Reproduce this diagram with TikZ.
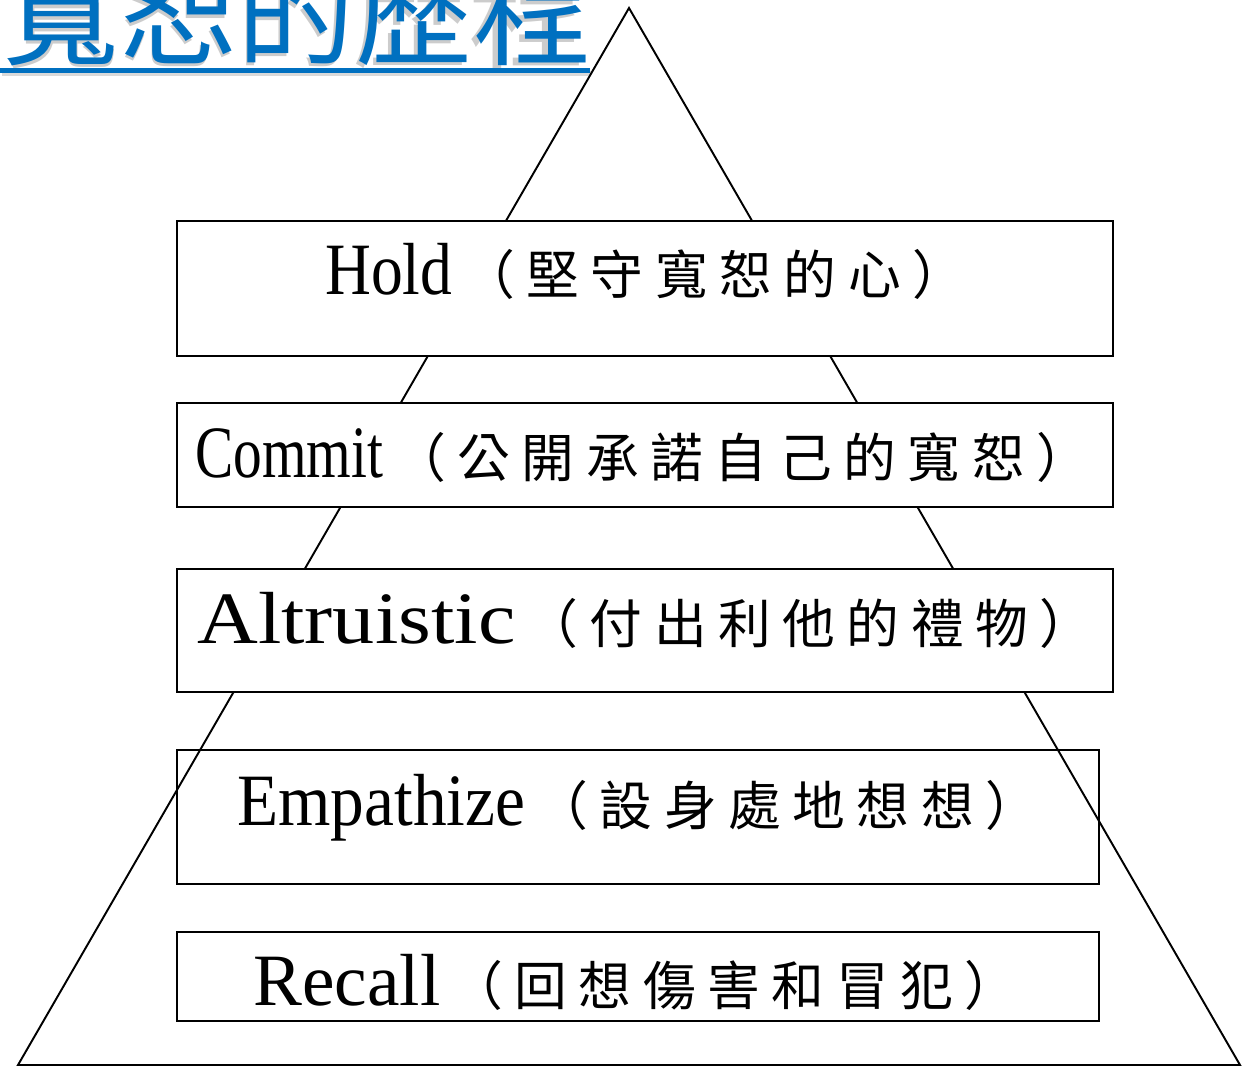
\documentclass[tikz,border=0pt]{standalone}
\usepackage{fontspec}
\usepackage{graphicx}
\setmainfont{Liberation Serif}
\newfontfamily\cjk[LetterSpace=22]{Noto Sans CJK TC}
\newfontfamily\cjktitle{Noto Sans CJK TC}
\usetikzlibrary{positioning}
\definecolor{titleblue}{HTML}{0070C0}
% latin word squeezed to the width it has in the slide
\newcommand\lat[2]{\resizebox{#1}{\height}{#2}}
\newcommand\zh[1]{\hspace{0.2cm}{\cjk\fontsize{30}{32}\selectfont #1}}

\begin{document}
\begin{tikzpicture}[x=1cm,y=-1cm,
    stagebox/.style={draw,line width=1.2pt,fill=white,inner sep=0pt,minimum width=18.72cm},
    stagetext/.style={anchor=base west,inner sep=0pt,font=\fontsize{42}{44}\selectfont}]
  \clip (0,0) rectangle (24.98,21.34);

  % title
  \node[anchor=base west,inner sep=0pt,text=black!20,font=\cjktitle\fontsize{66}{70}\selectfont] (titleshadow) at (0.08,1.19) {寬恕的歷程};
  \fill[black!15] (0.04,1.42) rectangle (11.82,1.52);
  \node[anchor=base west,inner sep=0pt,text=titleblue,font=\cjktitle\fontsize{67}{70}\selectfont] (title) at (0.04,1.14) {寬恕的歷程};
  \fill[titleblue] (0,1.37) rectangle (11.80,1.47);

  % pyramid
  \coordinate (apex) at (12.58,0.16);
  \coordinate (baseL) at (0.36,21.30);
  \coordinate (baseR) at (24.80,21.30);
  \draw[line width=1.1pt,line join=miter] (apex) -- (baseL) -- (baseR) -- cycle;

  % the five steps, top to bottom
  \node[stagebox,minimum height=2.70cm] (hold) at (12.90,5.77) {};
  \node[stagebox,minimum height=2.08cm] (commit) at (12.90,9.10) {};
  \node[stagebox,minimum height=2.46cm] (altruistic) at (12.90,12.61) {};
  \node[stagebox,fill=none,minimum width=18.44cm,minimum height=2.68cm] (empathize) at (12.76,16.34) {};
  \node[stagebox,minimum width=18.44cm,minimum height=1.78cm] (recall) at (12.76,19.53) {};

  \node[stagetext] (holdtxt) at (6.50,5.90) {\lat{2.54cm}{Hold}\zh{（堅守寬恕的心）}};
  \node[stagetext] (committxt) at (3.90,9.54) {\lat{3.76cm}{Commit}\zh{（公開承諾自己的寬恕）}};
  \node[stagetext] (altruistictxt) at (3.94,12.86) {\lat{6.36cm}{Altruistic}\zh{（付出利他的禮物）}};
  \node[stagetext] (empathizetxt) at (4.74,16.50) {\lat{5.76cm}{Empathize}\zh{（設身處地想想）}};
  \node[stagetext] (recalltxt) at (5.06,20.10) {\lat{3.74cm}{Recall}\zh{（回想傷害和冒犯）}};
\end{tikzpicture}
\end{document}
